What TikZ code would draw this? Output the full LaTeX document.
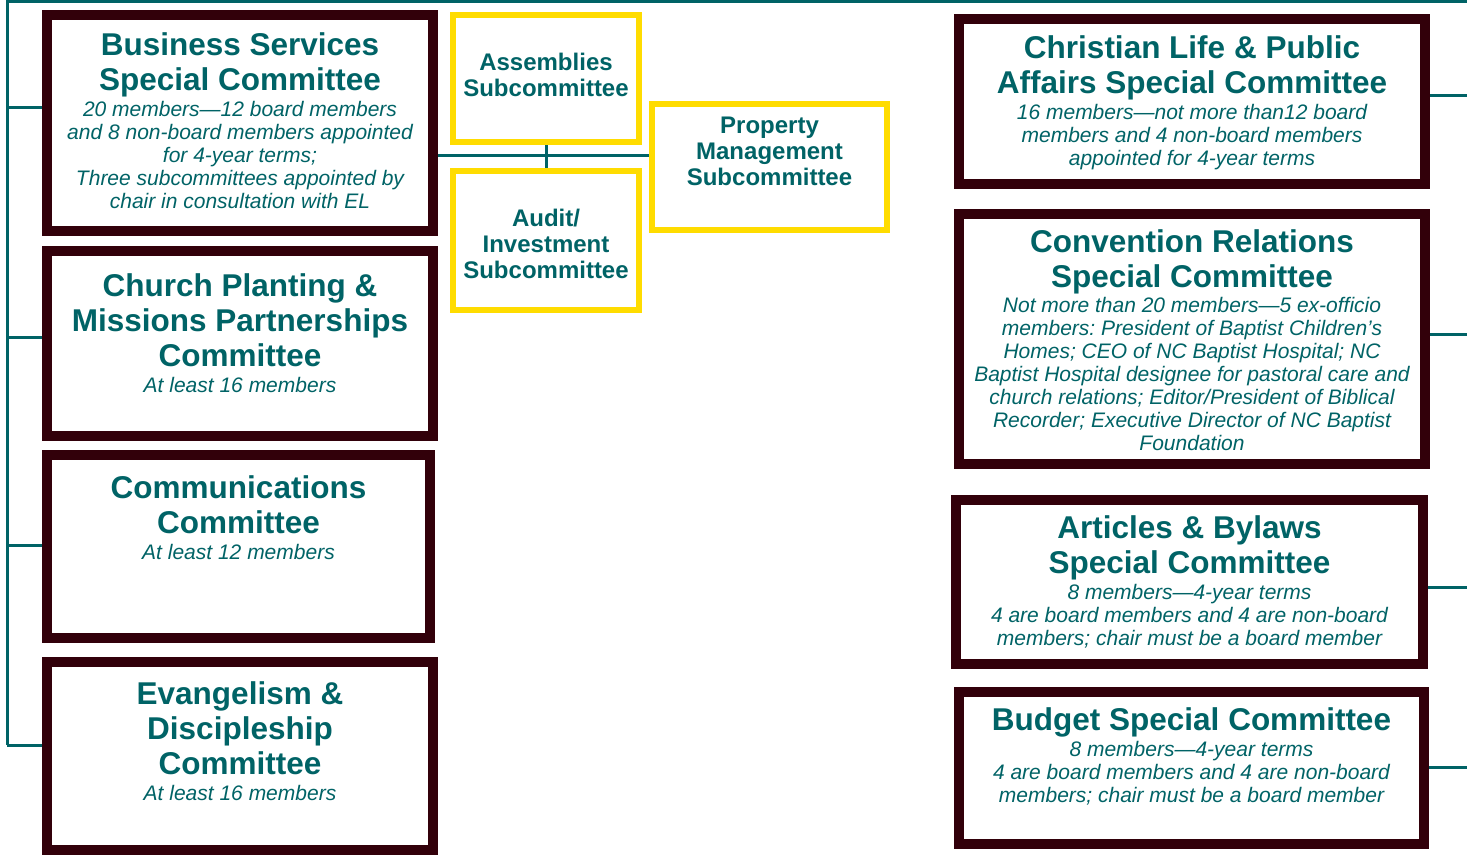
\documentclass[tikz,border=0pt]{standalone}
\usepackage{fontspec}
\setmainfont{Liberation Sans}
\usepackage{tikz}
\usetikzlibrary{calc,positioning}
\definecolor{tealtext}{RGB}{0,99,102}
\definecolor{maroonline}{RGB}{50,0,10}
\definecolor{goldline}{RGB}{255,220,0}
\newcommand{\headf}{\bfseries\fontsize{31.5}{35}\selectfont\spaceskip=\fontdimen2\font\xspaceskip=\fontdimen2\font\relax}
\newcommand{\notef}{\itshape\fontsize{21}{23}\selectfont\spaceskip=\fontdimen2\font\xspaceskip=\fontdimen2\font\relax}
\newcommand{\subf}{\bfseries\fontsize{24}{26}\selectfont\spaceskip=\fontdimen2\font\xspaceskip=\fontdimen2\font\relax}
\setlength{\parindent}{0pt}

\begin{document}
\begin{tikzpicture}[x=1pt,y=-1pt,
    cmte/.style={rectangle,draw=maroonline,fill=white,line width=10pt},
    subc/.style={rectangle,draw=goldline,fill=white,line width=6pt},
    leftTxt/.style={inner sep=0pt,align=center,text width=376pt},
    rightTxt/.style={inner sep=0pt,align=center,text width=456pt},
    subTxt/.style={inner sep=0pt,align=center,text width=176pt},
    link/.style={draw=tealtext,line width=3pt}
]


    \tikzstyle{every node}=[text=tealtext];

    \useasboundingbox (0,0) rectangle (1467,856);

    \coordinate (corner) at (7,1.5);
    \coordinate (topEnd) at (1467,1.5);
    \coordinate (spineEnd) at (7,745);

    \node[cmte, minimum width=386pt, minimum height=216pt] (bs) at (240,123) {};
    \node[cmte, minimum width=386pt, minimum height=185pt] (cp) at (240,343.5) {};
    \node[cmte, minimum width=383pt, minimum height=183pt] (cm) at (238.5,546.5) {};
    \node[cmte, minimum width=386pt, minimum height=188pt] (ed) at (240,756) {};

    \node[subc, minimum width=186pt, minimum height=127pt] (as) at (546,78.5) {};
    \node[subc, minimum width=186pt, minimum height=139pt] (au) at (546,240.5) {};
    \node[subc, minimum width=235pt, minimum height=126pt] (pm) at (769.5,167) {};

    \node[cmte, minimum width=466pt, minimum height=165pt] (cl) at (1192,101.5) {};
    \node[cmte, minimum width=466pt, minimum height=250pt] (cr) at (1192,339) {};
    \node[cmte, minimum width=467pt, minimum height=164pt] (ab) at (1189.5,582) {};
    \node[cmte, minimum width=465pt, minimum height=152pt] (bu) at (1191.5,768) {};

    \node[leftTxt, below=22pt of bs.north] (bsText) {%
        {\headf Business Services\\Special Committee\par}\vspace{3pt}%
        {\notef 20 members—12 board members\\and 8 non-board members appointed\\for 4-year terms;\\Three subcommittees appointed by\\chair in consultation with EL\par}};
    \node[leftTxt, below=27pt of cp.north] (cpText) {%
        {\headf Church Planting \&\\Missions Partnerships\\Committee\par}\vspace{3pt}%
        {\notef At least 16 members\par}};
    \node[leftTxt, below=25pt of cm.north] (cmText) {%
        {\headf Communications\\Committee\par}\vspace{3pt}%
        {\notef At least 12 members\par}};
    \node[leftTxt, below=24pt of ed.north] (edText) {%
        {\headf Evangelism \&\\Discipleship\\Committee\par}\vspace{3pt}%
        {\notef At least 16 members\par}};

    \node[subTxt, below=41pt of as.north] (asText) {\subf Assemblies\\Subcommittee\par};
    \node[subTxt, below=41pt of au.north] (auText) {\subf Audit/\\Investment\\Subcommittee\par};
    \node[subTxt, text width=225pt, below=16pt of pm.north] (pmText) {\subf Property\\Management\\Subcommittee\par};

    \node[rightTxt, below=21pt of cl.north] (clText) {%
        {\headf Christian Life \& Public\\Affairs Special Committee\par}\vspace{3pt}%
        {\notef 16 members—not more than12 board\\members and 4 non-board members\\appointed for 4-year terms\par}};
    \node[rightTxt, below=20pt of cr.north] (crText) {%
        {\headf Convention Relations\\Special Committee\par}\vspace{2pt}%
        {\notef Not more than 20 members—5 ex-officio\\members: President of Baptist Children’s\\Homes; CEO of NC Baptist Hospital; NC\\Baptist Hospital designee for pastoral care and\\church relations; Editor/President of Biblical\\Recorder; Executive Director of NC Baptist\\Foundation\par}};
    \node[rightTxt, below=20pt of ab.north] (abText) {%
        {\headf Articles \& Bylaws\\Special Committee\par}\vspace{3pt}%
        {\notef 8 members—4-year terms\\4 are board members and 4 are non-board\\members; chair must be a board member\par}};
    \node[rightTxt, below=20pt of bu.north] (buText) {%
        {\headf Budget Special Committee\par}\vspace{3pt}%
        {\notef 8 members—4-year terms\\4 are board members and 4 are non-board\\members; chair must be a board member\par}};

    \coordinate (bsIn) at ($(bs.west)+(0,-15)$);
    \coordinate (cpIn) at ($(cp.west)+(0,-6.5)$);
    \coordinate (cmIn) at ($(cm.west)+(0,-1.5)$);
    \coordinate (edIn) at ($(ed.west)+(0,-11)$);
    \coordinate (clOut) at ($(cl.east)+(0,-5.5)$);
    \coordinate (crOut) at ($(cr.east)+(0,-5)$);
    \coordinate (abOut) at ($(ab.east)+(0,5)$);
    \coordinate (buOut) at ($(bu.east)+(0,-1)$);
    \coordinate (pmIn) at ($(pm.west)+(0,-11)$);

    \draw[link] (topEnd) -- (corner) -- (spineEnd);
    \draw[link] (bsIn) -- (bsIn -| corner);
    \draw[link] (cpIn) -- (cpIn -| corner);
    \draw[link] (cmIn) -- (cmIn -| corner);
    \draw[link] (edIn) -- (edIn -| corner);
    \draw[link] (clOut) -- (clOut -| topEnd);
    \draw[link] (crOut) -- (crOut -| topEnd);
    \draw[link] (abOut) -- (abOut -| topEnd);
    \draw[link] (buOut) -- (buOut -| topEnd);
    \draw[link] (pmIn) -- (pmIn -| bs.east);
    \draw[link] (as.south) -- (au.north);

\end{tikzpicture}
\end{document}
